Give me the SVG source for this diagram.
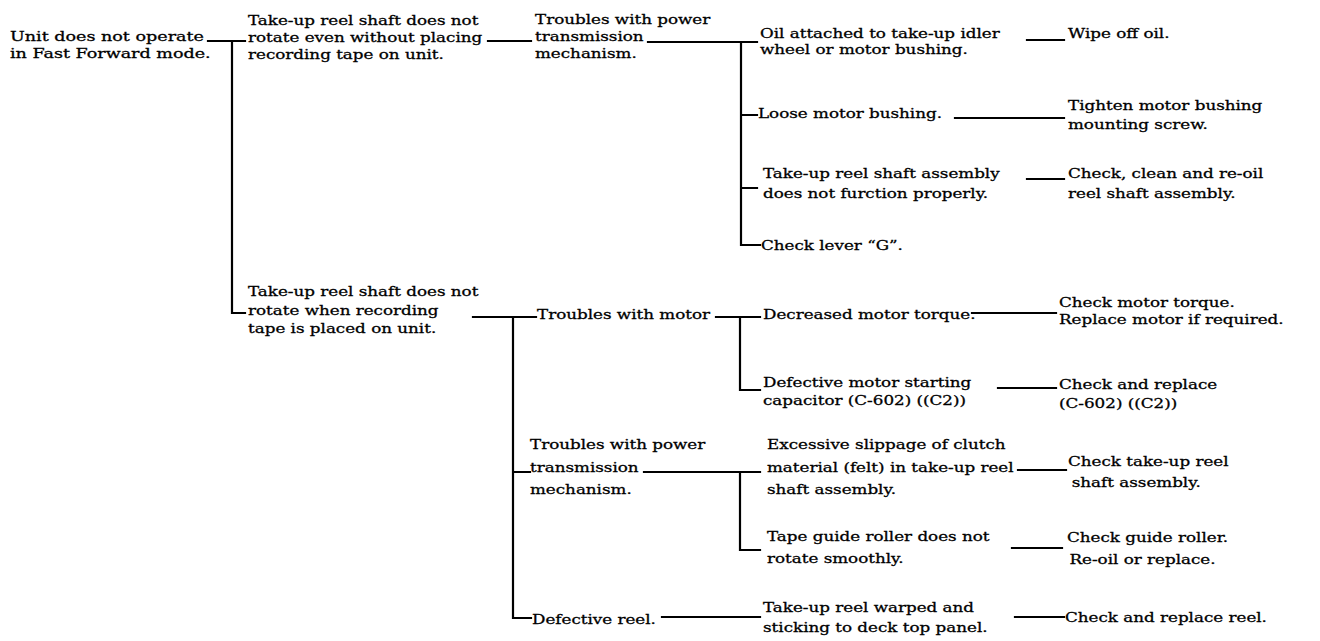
<svg xmlns="http://www.w3.org/2000/svg" width="1320" height="641" viewBox="0 0 1320 641">
<style>
text{font-family:"DejaVu Serif","Liberation Serif",serif;font-size:13.5px;fill:#000;stroke:#000;stroke-width:0.3}
.c{fill:none;stroke:#000;stroke-width:2.2;stroke-linecap:square}
</style>
<rect width="1320" height="641" fill="#fff"/>
<g id="connectors">
<path class="c" d="M208 41H245M232 41V313H245"/>
<path class="c" d="M488 41H531"/>
<path class="c" d="M648 42H757M741 42V245H760M741 115H757M741 188H757"/>
<path class="c" d="M1027 40H1064"/>
<path class="c" d="M955 118H1064"/>
<path class="c" d="M1027 179H1064"/>
<path class="c" d="M473 317H536M513 317V618H531M513 472H530"/>
<path class="c" d="M716 317H760M740 317V390H760"/>
<path class="c" d="M972 313H1056"/>
<path class="c" d="M998 388H1056"/>
<path class="c" d="M644 472H760M740 472V550H760"/>
<path class="c" d="M1018 470H1066"/>
<path class="c" d="M1012 548H1062"/>
<path class="c" d="M662 617H760"/>
<path class="c" d="M1015 617H1064"/>
</g>
<g id="n1" transform="translate(10,41) scale(1.3,1)"><text y="0">Unit does not operate</text><text y="17">in Fast Forward mode.</text></g>
<g id="n2" transform="translate(248,25) scale(1.24,1)"><text y="0">Take-up reel shaft does not</text><text y="17">rotate even without placing</text><text y="34">recording tape on unit.</text></g>
<g id="n3" transform="translate(535,24) scale(1.24,1)"><text y="0">Troubles with power</text><text y="17">transmission</text><text y="34">mechanism.</text></g>
<g id="n4" transform="translate(760,38) scale(1.24,1)"><text y="0">Oil attached to take-up idler</text><text y="16">wheel or motor bushing.</text></g>
<g id="n5" transform="translate(1068,38) scale(1.24,1)"><text y="0">Wipe off oil.</text></g>
<g id="n6" transform="translate(758,118) scale(1.24,1)"><text y="0">Loose motor bushing.</text></g>
<g id="n7" transform="translate(1068,110) scale(1.24,1)"><text y="0">Tighten motor bushing</text><text y="19">mounting screw.</text></g>
<g id="n8" transform="translate(763,178) scale(1.24,1)"><text y="0">Take-up reel shaft assembly</text><text y="20">does not furction properly.</text></g>
<g id="n9" transform="translate(1068,178) scale(1.24,1)"><text y="0">Check, clean and re-oil</text><text y="20">reel shaft assembly.</text></g>
<g id="n10" transform="translate(761,250) scale(1.24,1)"><text y="0">Check lever “G”.</text></g>
<g id="n11" transform="translate(248,296) scale(1.24,1)"><text y="0">Take-up reel shaft does not</text><text y="19">rotate when recording</text><text y="37">tape is placed on unit.</text></g>
<g id="n12" transform="translate(537,319) scale(1.24,1)"><text y="0">Troubles with motor</text></g>
<g id="n13" transform="translate(763,319) scale(1.24,1)"><text y="0">Decreased motor torque.</text></g>
<g id="n14" transform="translate(1059,307) scale(1.24,1)"><text y="0">Check motor torque.</text><text y="17">Replace motor if required.</text></g>
<g id="n15" transform="translate(763,387) scale(1.24,1)"><text y="0">Defective motor starting</text><text y="18">capacitor (C-602) ((C2))</text></g>
<g id="n16" transform="translate(1059,389) scale(1.24,1)"><text y="0">Check and replace</text><text y="19">(C-602) ((C2))</text></g>
<g id="n17" transform="translate(530,449) scale(1.24,1)"><text y="0">Troubles with power</text><text y="23">transmission</text><text y="45">mechanism.</text></g>
<g id="n18" transform="translate(767,449) scale(1.24,1)"><text y="0">Excessive slippage of clutch</text><text y="23">material (felt) in take-up reel</text><text y="45">shaft assembly.</text></g>
<g id="n19" transform="translate(1068,466) scale(1.24,1)"><text y="0">Check take-up reel</text><text x="3" y="21">shaft assembly.</text></g>
<g id="n20" transform="translate(767,541) scale(1.24,1)"><text y="0">Tape guide roller does not</text><text y="22">rotate smoothly.</text></g>
<g id="n21" transform="translate(1067,542) scale(1.24,1)"><text y="0">Check guide roller.</text><text x="2" y="22">Re-oil or replace.</text></g>
<g id="n22" transform="translate(532,624) scale(1.24,1)"><text y="0">Defective reel.</text></g>
<g id="n23" transform="translate(763,612) scale(1.24,1)"><text y="0">Take-up reel warped and</text><text y="20">sticking to deck top panel.</text></g>
<g id="n24" transform="translate(1065,622) scale(1.24,1)"><text y="0">Check and replace reel.</text></g>
</svg>
